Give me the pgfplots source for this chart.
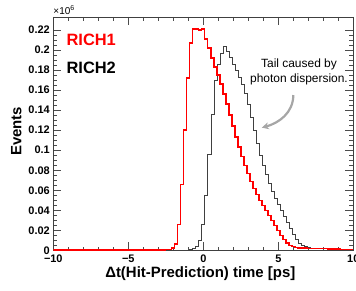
\documentclass[border=0pt]{standalone}
\usepackage{fontspec}
\setmainfont{Liberation Sans}
\usepackage{pgfplots}
\pgfplotsset{compat=1.18}
\usetikzlibrary{arrows.meta}
\begin{document}
\begin{tikzpicture}
\begin{axis}[
  scale only axis, width=300bp, height=233.5bp,
  xmin=-10, xmax=10, ymin=0, ymax=0.2328,
  xtick={-10,-5,0,5,10}, xticklabels={−10,−5,0,5,10},
  minor x tick num=4,
  ytick={0,0.02,0.04,0.06,0.08,0.1,0.12,0.14,0.16,0.18,0.2,0.22},
  yticklabels={0,0.02,0.04,0.06,0.08,0.1,0.12,0.14,0.16,0.18,0.2,0.22},
  minor y tick num=3,
  tick align=inside,
  major tick length=8bp, minor tick length=4bp,
  ticklabel style={font=\fontsize{11}{13}\selectfont\bfseries},
  xticklabel style={yshift=-1bp},
  axis line style={black!75, line width=0.7bp},
  every tick/.style={black!70, line width=0.6bp},
  xlabel={Δt(Hit-Prediction) time [ps]},
  ylabel={Events},
  label style={font=\fontsize{15}{17}\selectfont\bfseries},
  xlabel style={at={(axis description cs:0.49,-0.1135)}, anchor=base},
  ylabel style={at={(axis description cs:-0.106,0.51)}, anchor=base, rotate=0},
  clip=true,
]
\coordinate (SW) at (rel axis cs:0,0);
\coordinate (NE) at (rel axis cs:1,1);
% RICH2 (black)
\addplot[const plot mark left, black!75, line width=0.6bp] coordinates {
(-10,0.0001) (-1.5,0.0003) (-0.9,0.001) (-0.7,0.002) (-0.5,0.0045) (-0.3,0.0100)
(-0.1,0.026) (0.1,0.055) (0.3,0.096) (0.5,0.136) (0.7,0.170) (0.9,0.186)
(1.1,0.197) (1.3,0.204) (1.5,0.199) (1.7,0.193) (1.9,0.186) (2.1,0.180)
(2.3,0.173) (2.5,0.166) (2.7,0.157) (2.9,0.146) (3.1,0.133) (3.3,0.120)
(3.5,0.107) (3.7,0.095) (3.9,0.085) (4.1,0.076) (4.3,0.067) (4.5,0.059)
(4.7,0.052) (4.9,0.046) (5.1,0.040) (5.3,0.034) (5.5,0.028) (5.7,0.022)
(5.9,0.016) (6.1,0.011) (6.3,0.0075) (6.5,0.0055) (6.7,0.004) (6.9,0.003)
(7.1,0.0024) (7.3,0.002) (7.7,0.0017) (8.5,0.0014) (9.3,0.0011) (9.9,0.001) (10,0.001)
};
% RICH1 (red)
\addplot[const plot mark left, red, line width=1.4bp] coordinates {
(-10,0.0004) (-4,0.0006) (-2.5,0.0008) (-2.3,0.0012) (-2.1,0.0025) (-1.9,0.0065)
(-1.7,0.026) (-1.5,0.066) (-1.3,0.120) (-1.1,0.172) (-0.9,0.207) (-0.7,0.221)
(-0.5,0.221) (-0.3,0.220) (-0.1,0.221) (0.1,0.211) (0.3,0.202) (0.5,0.192)
(0.7,0.183) (0.9,0.175) (1.1,0.166) (1.3,0.156) (1.5,0.146) (1.7,0.135)
(1.9,0.124) (2.1,0.113) (2.3,0.103) (2.5,0.094) (2.7,0.085) (2.9,0.077)
(3.1,0.069) (3.3,0.062) (3.5,0.056) (3.7,0.050) (3.9,0.045) (4.1,0.040)
(4.3,0.035) (4.5,0.030) (4.7,0.025) (4.9,0.020) (5.1,0.015) (5.3,0.011)
(5.5,0.0075) (5.7,0.005) (5.9,0.0037) (6.1,0.003) (6.3,0.0026) (6.5,0.0023)
(6.9,0.002) (7.5,0.0018) (8.3,0.0015) (9.1,0.0012) (9.9,0.001) (10,0.001)
};
\node[anchor=base west, text=red, font=\fontsize{16.5}{18}\selectfont\bfseries] at (axis cs:-9.35,0.2042) {RICH1};
\node[anchor=base west, text=black, font=\fontsize{16.5}{18}\selectfont\bfseries] at (axis cs:-9.35,0.176) {RICH2};
\node[align=center, font=\fontsize{12}{15}\selectfont, anchor=center] at (axis cs:6.38,0.178) {Tail caused by\\photon dispersion.};
\draw[-{Stealth[length=7bp,width=7bp]}, black!35, line width=2.2bp] (axis cs:6.0,0.155) to[out=-90,in=15] (axis cs:3.9,0.1225);
\end{axis}
\node[anchor=base west, font=\fontsize{10}{11}\selectfont, inner sep=0pt] at ([yshift=2.5bp]NE -| SW) {×10\textsuperscript{6}};
\pgfresetboundingbox
\path ([shift={(-53.3bp,-40.5bp)}]SW) rectangle ([shift={(2.7bp,17bp)}]NE);
\end{tikzpicture}
\end{document}
